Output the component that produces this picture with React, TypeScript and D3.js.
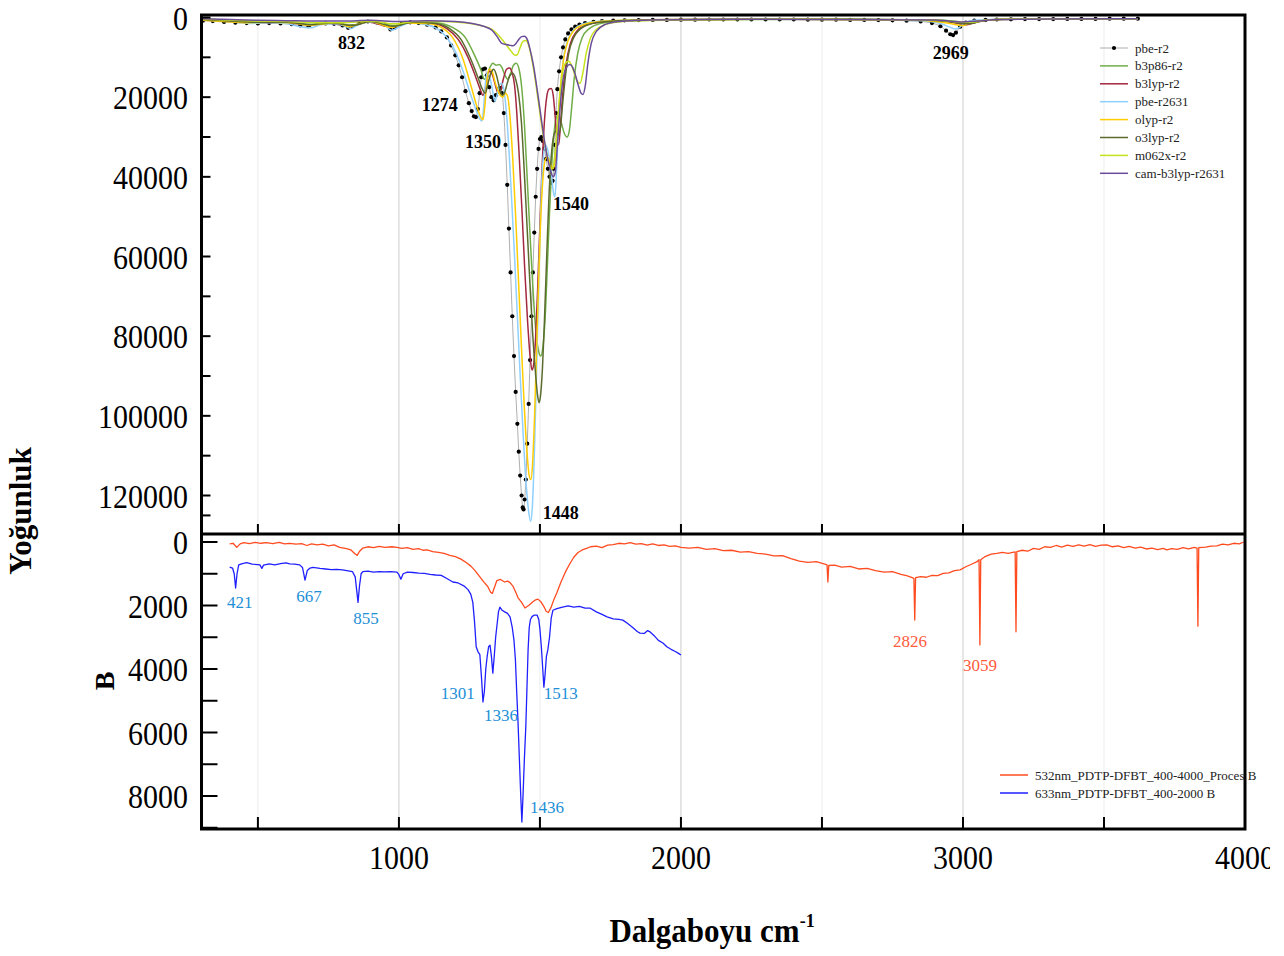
import React from "react";
import * as d3 from "d3";

type P = [number, number];

// ---------------- DATA ----------------
const pbeR2: P[] = [[305,800],[340,900],[380,1100],[420,1300],[460,1400],[500,1500],[540,1400],[580,1500],[620,1700],[650,2000],[680,2200],[710,1700],[740,1500],[770,1600],[800,2000],[820,2600],[835,2200],[860,1300],[890,1000],[920,1200],[950,1800],[970,3000],[985,2600],[1010,1500],[1040,1200],[1070,1400],[1100,1800],[1130,2500],[1150,3500],[1170,5000],[1185,7000],[1200,9500],[1212,12000],[1224,15000],[1236,18500],[1248,21500],[1258,23500],[1266,24800],[1273,25000],[1280,23000],[1286,19000],[1292,15000],[1298,13000],[1305,12800],[1312,14500],[1320,17500],[1328,20000],[1336,20800],[1344,19500],[1352,18000],[1360,17700],[1366,19000],[1372,24000],[1378,32000],[1384,42000],[1390,53000],[1396,64000],[1402,75000],[1408,85000],[1414,94000],[1420,102000],[1425,109000],[1430,115000],[1435,120000],[1439,123000],[1442,123500],[1446,121000],[1450,116000],[1455,107000],[1460,97000],[1465,86000],[1470,75000],[1475,64000],[1480,54000],[1485,45000],[1490,38000],[1495,33000],[1500,30500],[1505,30000],[1510,31000],[1516,33000],[1522,35500],[1528,38000],[1534,40000],[1540,41500],[1545,41000],[1549,38000],[1553,32000],[1557,24000],[1562,18000],[1568,13500],[1575,10000],[1582,7500],[1590,5500],[1600,4000],[1612,3000],[1625,2300],[1640,1800],[1660,1400],[1690,1100],[1720,900],[1760,800],[1800,700],[1850,650],[1900,600],[1950,600],[2000,550],[2050,550],[2100,500],[2150,500],[2200,500],[2250,500],[2300,500],[2350,500],[2400,500],[2450,550],[2500,550],[2550,550],[2600,600],[2650,600],[2700,650],[2750,700],[2800,800],[2850,1000],[2890,1400],[2920,2200],[2940,3300],[2955,4200],[2965,4400],[2975,3800],[2990,2300],[3010,1300],[3040,800],[3080,600],[3120,500],[3170,450],[3220,400],[3270,400],[3320,400],[3370,350],[3420,350],[3470,350],[3520,300],[3570,300],[3620,300]];

const b3p86R2: P[] = [[305,500],[400,900],[500,1100],[600,1200],[690,1700],[760,1300],[835,1900],[900,1000],[980,2000],[1050,1100],[1130,1300],[1190,2500],[1235,5000],[1265,9000],[1290,13000],[1303,15500],[1313,14500],[1323,12500],[1333,11500],[1345,12000],[1355,11800],[1365,12500],[1376,14500],[1386,15500],[1396,14000],[1406,12000],[1416,11500],[1426,13000],[1436,18000],[1446,28000],[1456,42000],[1466,56000],[1476,69000],[1486,79000],[1496,84000],[1503,85000],[1510,83000],[1518,76000],[1526,63000],[1534,49000],[1542,37000],[1550,29000],[1558,25000],[1566,24500],[1576,26500],[1586,29000],[1596,30000],[1604,28500],[1612,23000],[1622,15000],[1634,9000],[1650,5000],[1675,2800],[1710,1600],[1780,1000],[1900,700],[2200,500],[2600,450],[2900,650],[2980,1000],[3020,1500],[3040,1400],[3070,800],[3150,450],[3620,300]];

const b3lypR2: P[] = [[305,600],[400,1000],[500,1300],[600,1300],[690,1900],[750,1500],[830,2200],[890,1100],[975,2400],[1040,1300],[1120,1500],[1170,2800],[1210,5500],[1245,10000],[1270,14500],[1288,18000],[1298,19500],[1306,18000],[1314,15000],[1322,13500],[1332,14500],[1342,17000],[1352,19000],[1360,18500],[1370,15500],[1382,13000],[1392,12700],[1402,14000],[1410,17000],[1418,24000],[1426,34000],[1436,48000],[1446,63000],[1456,76000],[1465,85000],[1472,88500],[1478,87000],[1485,80000],[1492,68000],[1500,52000],[1508,37000],[1516,26000],[1524,20000],[1532,18000],[1540,17800],[1547,19500],[1553,24000],[1560,30000],[1566,32000],[1572,28000],[1580,20000],[1592,12000],[1608,6500],[1630,3500],[1660,2000],[1710,1200],[1800,800],[2000,500],[2400,450],[2800,550],[2930,900],[2990,1600],[3015,1800],[3040,1300],[3090,700],[3200,400],[3620,300]];

const pbeR2631: P[] = [[305,600],[360,900],[420,1200],[480,1500],[540,1300],[600,1500],[650,2300],[690,2600],[720,1800],[770,1600],[810,2200],[830,2800],[850,2000],[890,1100],[940,1500],[975,3200],[1000,2400],[1040,1300],[1090,1700],[1130,2600],[1170,5000],[1200,8500],[1230,14000],[1255,19500],[1275,23500],[1287,25500],[1294,26000],[1300,23000],[1306,17000],[1312,14000],[1320,14500],[1330,17500],[1340,21000],[1348,19500],[1356,17000],[1364,16500],[1372,18000],[1380,23000],[1390,33000],[1400,46000],[1410,60000],[1420,75000],[1430,90000],[1440,104000],[1450,116000],[1460,124000],[1467,126500],[1473,123000],[1480,110000],[1487,92000],[1494,72000],[1500,55000],[1506,42000],[1512,35000],[1520,32000],[1530,34000],[1540,39000],[1548,44000],[1553,45000],[1558,40000],[1564,30000],[1572,19000],[1582,11000],[1595,6500],[1612,3800],[1635,2200],[1670,1300],[1720,900],[1800,700],[1900,550],[2100,450],[2400,450],[2700,550],[2850,800],[2920,1500],[2950,2300],[2972,2900],[2985,2600],[3005,1400],[3040,700],[3120,450],[3300,350],[3500,300],[3620,300]];

const olypR2: P[] = [[305,700],[380,1000],[460,1300],[540,1200],[620,1300],[680,2000],[720,1700],[780,1400],[825,2300],[850,1800],[900,1000],[975,2500],[1020,1400],[1100,1500],[1150,2500],[1190,5000],[1225,10000],[1255,17000],[1275,22000],[1290,25000],[1298,25700],[1305,22000],[1312,16000],[1320,13000],[1330,13500],[1342,16500],[1355,19000],[1368,20000],[1378,19000],[1386,20000],[1394,25000],[1404,36000],[1414,50000],[1424,66000],[1434,82000],[1444,97000],[1454,109000],[1462,115000],[1468,116000],[1474,112000],[1481,100000],[1488,84000],[1495,67000],[1502,52000],[1510,41000],[1518,36000],[1526,35000],[1536,36500],[1546,38000],[1554,36000],[1562,28000],[1572,18000],[1585,10000],[1600,5800],[1620,3300],[1650,1900],[1700,1100],[1800,700],[2000,500],[2400,450],[2800,600],[2920,1100],[2975,1800],[3000,2000],[3020,1500],[3060,800],[3150,450],[3400,350],[3620,300]];

const o3lypR2: P[] = [[305,500],[400,900],[500,1200],[600,1200],[690,1800],[760,1400],[835,2000],[900,1000],[980,2200],[1050,1200],[1130,1500],[1180,2800],[1220,5500],[1255,10500],[1280,15000],[1296,18000],[1306,19000],[1316,16500],[1326,14000],[1336,13000],[1346,14500],[1356,17500],[1366,19500],[1374,19000],[1384,16500],[1394,14500],[1404,14000],[1414,15500],[1424,19000],[1434,26000],[1444,38000],[1454,52000],[1464,66000],[1474,79000],[1484,89000],[1492,95000],[1497,96700],[1502,95000],[1509,88000],[1516,76000],[1524,60000],[1532,45000],[1540,35000],[1548,30000],[1556,28500],[1564,29500],[1572,28000],[1580,22000],[1590,15000],[1602,9000],[1620,5000],[1645,2800],[1680,1600],[1740,1000],[1850,700],[2100,500],[2500,450],[2850,600],[2950,1000],[3010,1600],[3030,1500],[3060,900],[3120,500],[3300,350],[3620,300]];

const m062xR2: P[] = [[305,400],[400,700],[500,900],[600,1000],[700,1300],[800,1300],[900,900],[980,1600],[1060,1000],[1150,1000],[1230,1300],[1290,2000],[1330,3000],[1360,5000],[1380,6800],[1398,8500],[1412,9500],[1420,9300],[1430,7500],[1440,6000],[1450,5800],[1460,7000],[1470,10000],[1482,15000],[1494,21000],[1506,27000],[1518,32000],[1530,36000],[1540,38000],[1547,37500],[1555,33000],[1565,24000],[1578,15000],[1590,11500],[1602,11000],[1612,12000],[1622,14000],[1632,16000],[1642,16500],[1652,14000],[1664,9000],[1680,5000],[1700,3000],[1740,1600],[1820,900],[2000,600],[2400,450],[2900,600],[3000,1200],[3040,1100],[3090,600],[3200,400],[3620,300]];

const camB3lypR2631: P[] = [[305,300],[400,500],[500,700],[600,800],[700,900],[800,900],[900,700],[1000,1000],[1100,800],[1200,1000],[1260,1500],[1300,2200],[1330,3200],[1350,5000],[1365,6500],[1380,6800],[1395,7000],[1405,7100],[1415,6500],[1425,5500],[1435,4800],[1445,4700],[1455,5500],[1465,8000],[1477,12000],[1490,18000],[1502,24000],[1514,30000],[1526,35000],[1538,38500],[1547,40000],[1554,39000],[1562,32000],[1572,22000],[1582,15500],[1594,12500],[1606,11800],[1616,12500],[1626,14500],[1636,17000],[1646,19000],[1653,19300],[1660,17500],[1670,11500],[1682,6500],[1700,3500],[1730,1800],[1780,1000],[1900,600],[2300,450],[2900,600],[3000,1100],[3060,900],[3120,500],[3300,350],[3620,300]];

const topNames = ["pbe-r2","b3p86-r2","b3lyp-r2","pbe-r2631","olyp-r2","o3lyp-r2","m062x-r2","cam-b3lyp-r2631"];
const topColors = ["#000000","#70AD47","#A3283F","#8FD0FF","#FFCC00","#5B6B2E","#C6E11E","#6B4C9A"];
const topSeries = [pbeR2, b3p86R2, b3lypR2, pbeR2631, olypR2, o3lypR2, m062xR2, camB3lypR2631];

const raman532: P[] = [[400,60],[412,40],[425,170],[437,60],[450,20],[470,50],[490,10],[510,40],[530,20],[553,50],[575,10],[595,60],[613,40],[635,70],[655,50],[674,110],[690,60],[710,90],[730,70],[750,120],[770,90],[790,170],[810,200],[830,250],[845,380],[852,420],[860,300],[872,190],[890,150],[910,180],[930,140],[950,170],[975,150],[993,170],[1010,200],[1030,180],[1050,230],[1070,210],[1085,260],[1100,250],[1120,300],[1140,330],[1160,360],[1181,420],[1200,460],[1220,540],[1241,660],[1255,760],[1270,900],[1287,1100],[1300,1250],[1315,1400],[1325,1580],[1331,1620],[1338,1450],[1347,1220],[1360,1180],[1375,1260],[1385,1230],[1394,1280],[1405,1400],[1415,1600],[1422,1750],[1435,1900],[1447,2080],[1460,2000],[1475,1880],[1485,1820],[1493,1800],[1505,1900],[1515,2050],[1522,2180],[1530,2220],[1540,2050],[1550,1800],[1560,1600],[1575,1250],[1590,950],[1605,700],[1620,480],[1635,330],[1650,250],[1665,200],[1680,150],[1700,130],[1720,180],[1740,100],[1760,80],[1780,40],[1800,60],[1820,20],[1840,70],[1860,50],[1880,100],[1900,60],[1920,110],[1940,90],[1960,140],[1980,120],[2000,170],[2030,190],[2060,170],[2090,230],[2120,210],[2150,270],[2180,260],[2210,320],[2240,300],[2270,360],[2300,380],[2330,440],[2360,430],[2390,520],[2420,600],[2450,640],[2480,620],[2510,700],[2518,720],[2521,1260],[2524,740],[2545,730],[2570,790],[2600,770],[2630,850],[2660,830],[2690,900],[2720,950],[2750,930],[2780,1020],[2800,1060],[2820,1120],[2826,1150],[2829,2460],[2832,1120],[2850,1090],[2870,1110],[2890,1050],[2910,1060],[2930,990],[2950,970],[2970,900],[2990,880],[3010,780],[3030,700],[3050,620],[3057,560],[3060,3240],[3063,560],[3080,450],[3100,380],[3120,360],[3140,330],[3160,360],[3185,310],[3188,2830],[3191,300],[3210,260],[3230,290],[3250,200],[3270,230],[3290,150],[3310,170],[3330,110],[3350,160],[3370,100],[3390,140],[3410,90],[3430,130],[3450,80],[3470,140],[3490,100],[3510,90],[3530,150],[3550,120],[3570,180],[3590,140],[3610,190],[3630,160],[3650,220],[3670,190],[3690,240],[3710,200],[3723,250],[3740,210],[3760,230],[3780,180],[3800,220],[3820,170],[3830,190],[3833,2650],[3836,180],[3860,160],[3880,130],[3900,120],[3920,70],[3940,90],[3960,40],[3980,60],[3995,0]];

const raman633: P[] = [[400,790],[410,820],[416,1000],[421,1450],[426,1000],[432,720],[445,680],[460,650],[480,700],[500,710],[507,720],[514,830],[520,730],[540,690],[560,720],[580,680],[600,660],[613,690],[630,700],[648,720],[658,800],[667,1200],[675,900],[685,820],[695,800],[720,830],[740,850],[760,870],[780,860],[800,880],[815,900],[835,930],[845,1100],[850,1500],[855,1900],[860,1400],[866,1000],[872,930],[890,920],[910,950],[930,930],[950,940],[970,930],[993,950],[1000,1030],[1007,1170],[1015,1000],[1030,950],[1050,960],[1070,980],[1090,990],[1110,1020],[1130,1040],[1150,1050],[1170,1150],[1191,1260],[1210,1290],[1230,1380],[1245,1500],[1255,1650],[1262,1900],[1268,2500],[1274,3300],[1280,3450],[1287,3550],[1293,4300],[1298,5040],[1303,4700],[1308,4000],[1313,3600],[1318,3300],[1323,3250],[1328,3600],[1333,4130],[1338,3600],[1343,3000],[1348,2600],[1353,2200],[1358,2050],[1366,2150],[1375,2200],[1385,2250],[1394,2360],[1402,2700],[1408,3100],[1413,3700],[1418,4800],[1422,5600],[1427,6800],[1432,8000],[1436,8820],[1440,8000],[1445,6800],[1450,5800],[1454,4600],[1458,3400],[1462,2700],[1466,2450],[1472,2350],[1480,2300],[1490,2300],[1496,2450],[1500,2750],[1505,3300],[1510,4000],[1514,4570],[1518,4200],[1523,3600],[1528,3400],[1534,3000],[1540,2400],[1546,2150],[1560,2100],[1580,2050],[1600,2010],[1620,2050],[1640,2030],[1660,2080],[1677,2080],[1700,2200],[1720,2280],[1738,2360],[1760,2420],[1780,2440],[1794,2460],[1810,2560],[1830,2700],[1845,2820],[1855,2870],[1870,2880],[1882,2790],[1890,2830],[1905,2950],[1920,3100],[1936,3180],[1950,3300],[1965,3380],[1980,3450],[1990,3500],[2000,3560]];

const bottomNames = ["532nm_PDTP-DFBT_400-4000_Proces B", "633nm_PDTP-DFBT_400-2000 B"];
const bottomColors = ["#FF4B1F", "#1F1FFF"];
const bottomSeries = [raman532, raman633];

// peak annotations: [text, x, y]
const topLabels: [string, number, number][] = [["832",832,8000],["1274",1145,23500],["1350",1298,32750],["1540",1610,48250],["1448",1574,126000],["2969",2957,10500]];
const bottomLabelsBlue: [string, number, number][] = [["421",436,2080],["667",681,1890],["855",883,2580],["1301",1209,4945],["1336",1362,5640],["1513",1574,4945],["1436",1525,8535]];
const bottomLabelsOrange: [string, number, number][] = [["2826",2812,3310],["3059",3060,4060]];

const xTickLabels = [1000, 2000, 3000, 4000];
const xMinorTicks = [500,1000,1500,2000,2500,3000,3500];
const topYTickLabels = [0, 20000, 40000, 60000, 80000, 100000, 120000];
const topYMinor = [10000,30000,50000,70000,90000,110000,125000];
const bottomYTickLabels = [0, 2000, 4000, 6000, 8000];
const bottomYMinor = [1000,3000,5000,7000,9000];

// ---------------- LAYOUT ----------------
const W = 1270, H = 956;
const PL = 201.5, PR = 1245, TT = 15, MID = 534, BB = 829;
const FONT = "'Liberation Serif', 'Times New Roman', serif";

export default function App() {
  const x = d3.scaleLinear().domain([300, 4000]).range([PL, PR]);
  const yT = d3.scaleLinear().domain([0, 120000]).range([17.5, 495.5]);
  const yB = d3.scaleLinear().domain([0, 8000]).range([542, 796]);
  const lineT = d3.line<P>().x(d => x(d[0])).y(d => yT(d[1])).curve(d3.curveMonotoneX);
  const lineB = d3.line<P>().x(d => x(d[0])).y(d => yB(d[1]));

  const grid = [500,1000,1500,2000,2500,3000,3500];

  return (
    <svg width={W} height={H} style={{ position: "absolute", left: 0, top: 0, background: "#fff" }} fontFamily={FONT}>
      <defs>
        <clipPath id="clipTop"><rect x={PL} y={TT} width={PR - PL} height={MID - TT} /></clipPath>
        <clipPath id="clipBot"><rect x={PL} y={MID} width={PR - PL} height={BB - MID} /></clipPath>
      </defs>
      <rect x={0} y={0} width={W} height={H} fill="#fff" />
      {/* grid */}
      {grid.map(g => (
        <g key={"g" + g}>
          <line x1={x(g)} x2={x(g)} y1={TT} y2={MID} stroke={g % 1000 === 0 ? "#cccccc" : "#ececec"} strokeWidth={1} />
          <line x1={x(g)} x2={x(g)} y1={MID} y2={BB} stroke={g % 1000 === 0 ? "#cccccc" : "#ececec"} strokeWidth={1} />
        </g>
      ))}
      {/* top series */}
      <g clipPath="url(#clipTop)">
        <path d={lineT(pbeR2) || ""} fill="none" stroke="#9a9a9a" strokeWidth={0.8} />
        {pbeR2.map((d, i) => (
          <circle key={"dot" + i} cx={x(d[0])} cy={yT(d[1])} r={2.1} fill="#000" />
        ))}
        {topSeries.slice(1).map((s, i) => (
          <path key={"ts" + i} d={lineT(s) || ""} fill="none" stroke={topColors[i + 1]} strokeWidth={1.5} />
        ))}
      </g>
      {/* bottom series */}
      <g clipPath="url(#clipBot)">
        {bottomSeries.map((s, i) => (
          <path key={"bs" + i} d={lineB(s) || ""} fill="none" stroke={bottomColors[i]} strokeWidth={1.3} strokeLinejoin="round" />
        ))}
      </g>
      {/* frame */}
      <rect x={PL} y={TT} width={PR - PL} height={BB - TT} fill="none" stroke="#000" strokeWidth={3} />
      <line x1={PL} x2={PR} y1={MID} y2={MID} stroke="#000" strokeWidth={3} />
      {/* x ticks */}
      {xMinorTicks.map(t => (
        <g key={"xt" + t}>
          <line x1={x(t)} x2={x(t)} y1={MID - 1} y2={MID - 10} stroke="#000" strokeWidth={2} />
          <line x1={x(t)} x2={x(t)} y1={BB - 1} y2={BB - 12} stroke="#000" strokeWidth={2} />
        </g>
      ))}
      {xTickLabels.map(t => (
        <text key={"xl" + t} transform={`translate(${x(t)},869) scale(1,1.15)`} textAnchor="middle" fontSize={30} fill="#000">{t}</text>
      ))}
      {/* top y ticks */}
      {topYTickLabels.concat(topYMinor).map(t => (
        <line key={"ytt" + t} x1={PL} x2={PL + 9} y1={yT(t)} y2={yT(t)} stroke="#000" strokeWidth={2} />
      ))}
      {topYTickLabels.map(t => (
        <text key={"ytl" + t} transform={`translate(188,${yT(t)}) scale(1,1.15)`} dy="0.35em" textAnchor="end" fontSize={30} fill="#000">{t}</text>
      ))}
      {/* bottom y ticks */}
      {bottomYTickLabels.concat(bottomYMinor).map(t => (
        <line key={"ybt" + t} x1={PL} x2={PL + 16} y1={yB(t)} y2={yB(t)} stroke="#000" strokeWidth={2} />
      ))}
      {bottomYTickLabels.map(t => (
        <text key={"ybl" + t} transform={`translate(188,${yB(t)}) scale(1,1.15)`} dy="0.35em" textAnchor="end" fontSize={30} fill="#000">{t}</text>
      ))}
      {/* peak labels */}
      {topLabels.map(([t, a, b]) => (
        <text key={"tl" + t} x={x(a)} y={yT(b)} textAnchor="middle" fontSize={18} fontWeight="bold" fill="#000">{t}</text>
      ))}
      {bottomLabelsBlue.map(([t, a, b]) => (
        <text key={"bl" + t} x={x(a)} y={yB(b)} textAnchor="middle" fontSize={17} fill="#1E8FD6">{t}</text>
      ))}
      {bottomLabelsOrange.map(([t, a, b]) => (
        <text key={"bo" + t} x={x(a)} y={yB(b)} textAnchor="middle" fontSize={17} fill="#FF5A3C">{t}</text>
      ))}
      {/* top legend */}
      {topNames.map((n, i) => {
        const ly = 48 + i * 17.9;
        return (
          <g key={"lg" + n}>
            <line x1={1100} x2={1128} y1={ly} y2={ly} stroke={i === 0 ? "#9a9a9a" : topColors[i]} strokeWidth={i === 0 ? 0.8 : 1.5} />
            {i === 0 && <circle cx={1114} cy={ly} r={2.1} fill="#000" />}
            <text x={1135} y={ly} dy="0.35em" fontSize={13} fill="#222">{n}</text>
          </g>
        );
      })}
      {/* bottom legend */}
      {bottomNames.map((n, i) => {
        const ly = 775 + i * 18;
        return (
          <g key={"lb" + i}>
            <line x1={1000} x2={1028} y1={ly} y2={ly} stroke={bottomColors[i]} strokeWidth={1.5} />
            <text x={1035} y={ly} dy="0.35em" fontSize={13} fill="#222">{n}</text>
          </g>
        );
      })}
      {/* axis titles */}
      <text transform="translate(31,511) rotate(-90)" textAnchor="middle" fontSize={31} fontWeight="bold" fill="#000">Yoğunluk</text>
      <text transform="translate(114,681) rotate(-90)" textAnchor="middle" fontSize={28} fontWeight="bold" fill="#000">B</text>
      <text transform="translate(712,942) scale(1,1.1)" textAnchor="middle" fontSize={31} fontWeight="bold" fill="#000">
        Dalgaboyu cm<tspan fontSize={18} dy={-14}>-1</tspan>
      </text>
    </svg>
  );
}
